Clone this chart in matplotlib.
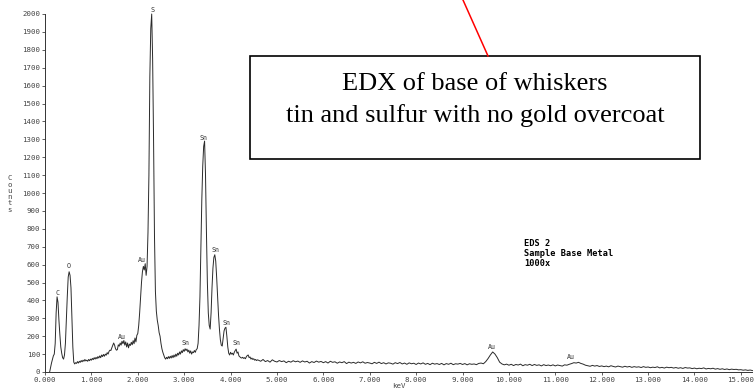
import numpy as np
import matplotlib
matplotlib.use("Agg")
import matplotlib.pyplot as plt
from matplotlib.patches import Rectangle
from matplotlib.lines import Line2D

# ---------------- data ----------------
# low-energy part: channels every 0.02 keV starting at 0.10 keV
low_start, low_step = 0.10, 0.02
low_counts = [
    0, 25, 50, 70, 90, 100, 160, 330, 420, 390,
    290, 210, 140, 105, 80, 72, 95, 160, 290, 420,
    530, 560, 540, 470, 300, 140, 55, 45, 52, 48,
    58, 50, 60, 54, 64, 57, 66, 60, 70, 62,
    66, 60, 70, 63, 72, 66, 76, 69, 80, 72,
    82, 74, 86, 78, 90, 80, 95, 86, 98, 88,
    100, 94, 108, 100, 115, 122, 120, 135, 148, 162,
    150, 130, 122, 125, 152, 144, 162, 150, 172, 158,
    176, 150, 168, 140, 162, 135, 156, 148, 166, 152,
    175, 158, 190, 168, 205, 215, 260, 330, 420, 500,
    560, 590, 570, 605, 540, 590, 780, 1100, 1650, 1920,
    2000, 1750, 1300, 760, 450, 340, 290, 260, 220, 200,
    160, 130, 110, 95, 80, 72, 82, 74, 86, 76,
    88, 78, 92, 80, 95, 84, 100, 88, 105, 95,
    112, 100, 118, 108, 125, 115, 130, 120, 128, 112,
    122, 105, 118, 100, 112, 108, 120, 110, 125, 130,
    160, 260, 420, 700, 960, 1150, 1260, 1290, 1100, 780,
    500, 330, 260, 240, 330, 470, 580, 640, 655, 620,
    530, 420, 320, 240, 180, 150, 145, 190, 230, 245,
    250, 200, 140, 105, 95, 110, 100, 105, 95, 110,
    120, 128, 105, 112, 90, 85, 80, 78, 82, 76,
    80, 74, 85, 92, 95, 80, 84, 72, 78, 70,
    74, 66, 70, 64, 68,
]
# high-energy part: channels every 0.05 keV starting at 4.60 keV
high_start, high_step = 4.60, 0.05
high_counts = [
    66, 60, 70, 58, 64, 55, 68, 60,
    56, 64, 58, 62, 52, 60, 55, 63, 57, 61,
    54, 62, 56, 60, 50, 58, 53, 61, 55, 59,
    52, 58, 50, 60, 54, 57, 49, 56, 52, 58,
    47, 55, 50, 54, 48, 56, 51, 57, 49, 53,
    50, 46, 54, 48, 55, 47, 52, 45, 51, 49,
    44, 52, 47, 53, 45, 50, 43, 51, 46, 49,
    42, 50, 45, 51, 43, 48, 41, 49, 44, 47,
    42, 48, 40, 47, 43, 49, 41, 46, 44, 48,
    42, 47, 40, 46, 43, 45, 41, 48, 50, 46,
    58, 75, 95, 112, 100, 80, 55, 45, 40, 44,
    38, 43, 36, 42, 39, 44, 35, 41, 38, 43,
    36, 42, 37, 40, 34, 41, 36, 39, 35, 40,
    34, 39, 36, 33, 40, 38, 43, 47, 52, 50,
    54, 48, 44, 38, 35, 32, 37, 33, 36, 31,
    34, 30, 33, 29, 35, 31, 28, 33, 30, 27,
    32, 28, 31, 26, 30, 27, 29, 25, 30, 26,
    28, 24, 27, 25, 29, 23, 26, 22, 27, 24,
    26, 22, 25, 21, 24, 20, 25, 22, 23, 19,
    22, 18, 21, 19, 23, 17, 20, 18, 21, 16,
    19, 15, 18, 14, 17, 13, 16, 14, 15, 12,
    13, 10, 12, 9, 11, 8,
]

peak_labels = ["C", "O", "Au", "Au", "S", "Sn", "Sn", "Sn", "Sn", "Sn", "Au", "Au"]
peak_kev = [0.26, 0.52, 1.65, 2.08, 2.31, 3.02, 3.41, 3.68, 3.92, 4.13, 9.63, 11.33]
peak_cnt = [441, 590, 196, 626, 2022, 164, 1305, 682, 275, 160, 138, 82]

y_ticks = list(range(0, 2001, 100))
x_ticks = list(range(0, 16))
info_lines = ["EDS 2", "Sample Base Metal", "1000x"]
box_lines = ["EDX of base of whiskers", "tin and sulfur with no gold overcoat"]

# ---------------- figure ----------------
W, H = 756, 392
fig = plt.figure(figsize=(W / 100, H / 100), dpi=100)
fig.patch.set_facecolor("white")

def fx(px):
    return px / W

def fy(py):
    return 1 - py / H

ax = fig.add_axes([fx(45), fy(372), fx(752) - fx(45), fy(14) - fy(372)])
ax.set_facecolor("white")

e_low = low_start + low_step * np.arange(len(low_counts))
e_high = high_start + high_step * np.arange(len(high_counts))
energy = np.concatenate([e_low, e_high])
counts = np.concatenate([low_counts, high_counts])
ax.plot(energy, counts, color="#2a2a2a", lw=0.7, clip_on=False)

ax.set_xlim(0, 15.24)
ax.set_ylim(0, 2000)
for s in ["top", "right"]:
    ax.spines[s].set_visible(False)
for s in ["left", "bottom"]:
    ax.spines[s].set_color("#333333")
    ax.spines[s].set_linewidth(0.7)

mono = "DejaVu Sans Mono"
ax.set_yticks(y_ticks)
ax.set_yticklabels([str(v) for v in y_ticks], family=mono, fontsize=5.3, color="#444444")
ax.set_xticks(x_ticks)
ax.set_xticklabels([f"{v:.3f}" for v in x_ticks], family=mono, fontsize=5.3, color="#444444")
ax.tick_params(axis="both", length=2, width=0.6, color="#444444", pad=1.5)

ax.set_xlabel("keV", family=mono, fontsize=5.3, color="#444444", labelpad=0)
fig.text(fx(10), fy(194), "C\no\nu\nn\nt\ns", family=mono, fontsize=5.3,
         color="#444444", ha="center", va="center", linespacing=1.05)

for lab, xk, yc in zip(peak_labels, peak_kev, peak_cnt):
    ax.text(xk, yc, lab, family=mono, fontsize=4.8, color="#333333",
            ha="center", va="center", clip_on=False)

for i, line in enumerate(info_lines):
    fig.text(fx(524), fy(243 + 10 * i), line, family=mono, fontsize=6.2,
             color="black", ha="left", va="center", weight="semibold")

# annotation box with red pointer line
fig.add_artist(Line2D([fx(463), fx(488)], [fy(0), fy(56)], color="red", lw=1.1,
                      transform=fig.transFigure))
fig.add_artist(Rectangle((fx(250), fy(159)), fx(700) - fx(250), fy(56) - fy(159),
                         transform=fig.transFigure, facecolor="white",
                         edgecolor="black", lw=1.2))
for i, line in enumerate(box_lines):
    fig.text(fx(475), fy(84 + 32 * i), line, family="Liberation Serif",
             fontsize=19, color="black", ha="center", va="center")

fig.savefig("out.png", dpi=100, facecolor="white")
